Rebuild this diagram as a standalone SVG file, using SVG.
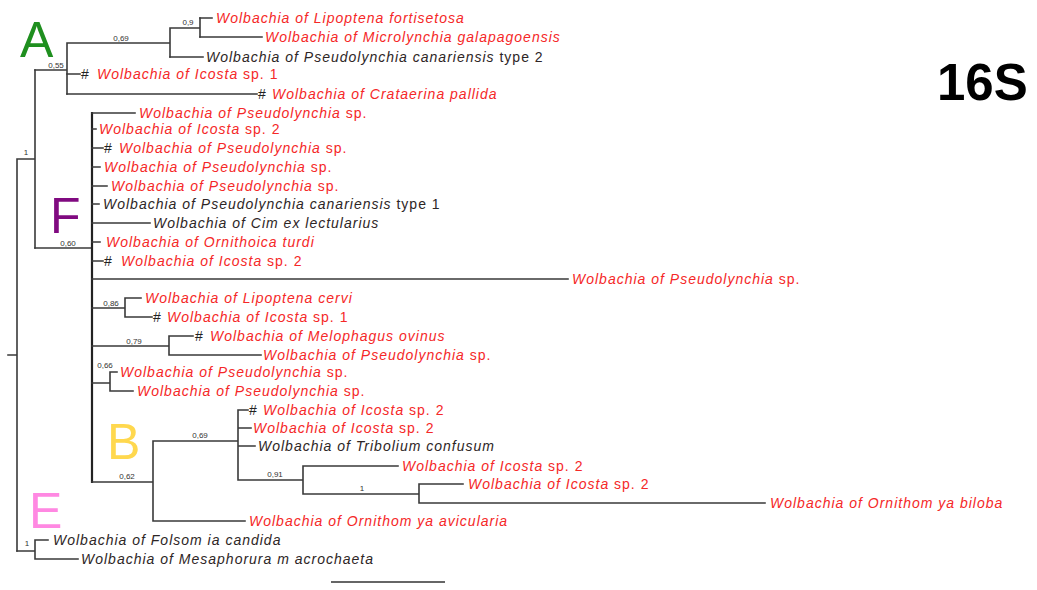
<svg xmlns="http://www.w3.org/2000/svg" width="1037" height="590" viewBox="0 0 1037 590">
<style>
.e{fill:none;stroke:#3a3a3a;stroke-width:1.6;stroke-linecap:square}
.t{font-family:"Liberation Sans",Arial,sans-serif;font-size:14px;letter-spacing:1px;font-style:italic}
.r{fill:#f52828}
.k{fill:#2e2626}
.h{fill:#222;font-style:normal}
.u{font-style:normal}
.s{font-family:"Liberation Sans",Arial,sans-serif;font-size:8px;fill:#333;text-anchor:middle}
.big{font-family:"Liberation Sans",Arial,sans-serif;font-size:50px}
</style>
<rect width="1037" height="590" fill="#fff"/>
<g id="connectors">
<path class="e" d="M8 355H17M17 159V551M17 159H35M35 70V248"/>
<path class="e" d="M35 70H67M67 43V94M67 43H170M170 28V57M170 28H200M200 18V37"/>
<path class="e" d="M200 18H212M200 37H262M170 57H203M67 74H80M67 94H257"/>
<path class="e" d="M35 248H92"/>
<path class="e" style="stroke-width:2.2;stroke:#222" d="M92 113V482"/>
<path class="e" d="M92 113H135M92 129H96M92 148H103M92 167H100M92 186H107M92 204H99M92 223H150M92 242H100M92 261H103M92 279H568"/>
<path class="e" d="M92 308H125M125 298V317M125 298H141M125 317H152"/>
<path class="e" d="M92 346H169M169 336V355M169 336H193M169 355H261"/>
<path class="e" d="M92 383H110M110 372V391M110 372H117M110 391H133"/>
<path class="e" d="M92 482H153M153 441V521M153 441H238M238 410V480M238 410H248M238 428H251M238 446H255M238 480H303M303 466V494M303 466H398M303 494H419M419 484V503M419 484H463M419 503H765M153 521H245"/>
<path class="e" d="M17 551H35M35 540V559M35 540H48M35 559H78"/>
<path class="e" style="stroke:#666;stroke-width:2" d="M332 582H444"/>
</g>
<g id="support">
<text class="s" x="188" y="25">0,9</text>
<text class="s" x="121" y="41">0,69</text>
<text class="s" x="56" y="68">0,55</text>
<text class="s" x="26" y="155">1</text>
<text class="s" x="68" y="246">0,60</text>
<text class="s" x="111" y="306">0,86</text>
<text class="s" x="134" y="344">0,79</text>
<text class="s" x="105" y="368">0,66</text>
<text class="s" x="127" y="479">0,62</text>
<text class="s" x="200" y="438">0,69</text>
<text class="s" x="275" y="477">0,91</text>
<text class="s" x="362" y="491">1</text>
<text class="s" x="27" y="546">1</text>
</g>
<g id="clades">
<text class="big" x="20" y="57" fill="#1f8f1f">A</text>
<text class="big" x="50" y="233" fill="#800a80">F</text>
<text class="big" x="107" y="459" fill="#ffd84e">B</text>
<text class="big" x="29" y="528" fill="#ff88e2">E</text>
<text x="937" y="100" style="font-family:'Liberation Sans',Arial,sans-serif;font-size:51px;font-weight:bold" fill="#000">16S</text>
</g>
<g id="leaf-a1"><text class="t r" x="216" y="23">Wolbachia of Lipoptena fortisetosa</text></g>
<g id="leaf-a2"><text class="t r" x="265" y="42">Wolbachia of Microlynchia galapagoensis</text></g>
<g id="leaf-a3"><text class="t k" x="206" y="62">Wolbachia of Pseudolynchia canariensis<tspan class="u"> type 2</tspan></text></g>
<g id="leaf-a4"><text class="t" y="79"><tspan class="h" x="81">#</tspan><tspan class="r" x="97">Wolbachia of Icosta</tspan><tspan class="r u"> sp. 1</tspan></text></g>
<g id="leaf-a5"><text class="t" y="99"><tspan class="h" x="258">#</tspan><tspan class="r" x="272">Wolbachia of Crataerina pallida</tspan></text></g>
<g id="leaf-f1"><text class="t r" x="139" y="118">Wolbachia of Pseudolynchia<tspan class="u"> sp.</tspan></text></g>
<g id="leaf-f2"><text class="t r" x="99" y="134">Wolbachia of Icosta<tspan class="u"> sp. 2</tspan></text></g>
<g id="leaf-f3"><text class="t" y="153"><tspan class="h" x="104">#</tspan><tspan class="r" x="119">Wolbachia of Pseudolynchia</tspan><tspan class="r u"> sp.</tspan></text></g>
<g id="leaf-f4"><text class="t r" x="104" y="172">Wolbachia of Pseudolynchia<tspan class="u"> sp.</tspan></text></g>
<g id="leaf-f5"><text class="t r" x="111" y="191">Wolbachia of Pseudolynchia<tspan class="u"> sp.</tspan></text></g>
<g id="leaf-f6"><text class="t k" x="103" y="209">Wolbachia of Pseudolynchia canariensis<tspan class="u"> type 1</tspan></text></g>
<g id="leaf-f7"><text class="t k" x="153" y="228">Wolbachia of Cim ex lectularius</text></g>
<g id="leaf-f8"><text class="t r" x="106" y="247">Wolbachia of Ornithoica turdi</text></g>
<g id="leaf-f9"><text class="t" y="266"><tspan class="h" x="104">#</tspan><tspan class="r" x="121">Wolbachia of Icosta</tspan><tspan class="r u"> sp. 2</tspan></text></g>
<g id="leaf-f10"><text class="t r" x="572" y="284">Wolbachia of Pseudolynchia<tspan class="u"> sp.</tspan></text></g>
<g id="leaf-f11"><text class="t r" x="145" y="303">Wolbachia of Lipoptena cervi</text></g>
<g id="leaf-f12"><text class="t" y="322"><tspan class="h" x="153">#</tspan><tspan class="r" x="167">Wolbachia of Icosta</tspan><tspan class="r u"> sp. 1</tspan></text></g>
<g id="leaf-f13"><text class="t" y="341"><tspan class="h" x="195">#</tspan><tspan class="r" x="210">Wolbachia of Melophagus ovinus</tspan></text></g>
<g id="leaf-f14"><text class="t r" x="263" y="360">Wolbachia of Pseudolynchia<tspan class="u"> sp.</tspan></text></g>
<g id="leaf-f15"><text class="t r" x="120" y="377">Wolbachia of Pseudolynchia<tspan class="u"> sp.</tspan></text></g>
<g id="leaf-f16"><text class="t r" x="137" y="396">Wolbachia of Pseudolynchia<tspan class="u"> sp.</tspan></text></g>
<g id="leaf-b1"><text class="t" y="415"><tspan class="h" x="249">#</tspan><tspan class="r" x="263">Wolbachia of Icosta</tspan><tspan class="r u"> sp. 2</tspan></text></g>
<g id="leaf-b2"><text class="t r" x="253" y="433">Wolbachia of Icosta<tspan class="u"> sp. 2</tspan></text></g>
<g id="leaf-b3"><text class="t k" x="258" y="451">Wolbachia of Tribolium confusum</text></g>
<g id="leaf-b4"><text class="t r" x="402" y="471">Wolbachia of Icosta<tspan class="u"> sp. 2</tspan></text></g>
<g id="leaf-b5"><text class="t r" x="468" y="489">Wolbachia of Icosta<tspan class="u"> sp. 2</tspan></text></g>
<g id="leaf-b6"><text class="t r" x="770" y="508">Wolbachia of Ornithom ya biloba</text></g>
<g id="leaf-b7"><text class="t r" x="249" y="526">Wolbachia of Ornithom ya avicularia</text></g>
<g id="leaf-e1"><text class="t k" x="53" y="545">Wolbachia of Folsom ia candida</text></g>
<g id="leaf-e2"><text class="t k" x="81" y="564">Wolbachia of Mesaphorura m acrochaeta</text></g>
</svg>
